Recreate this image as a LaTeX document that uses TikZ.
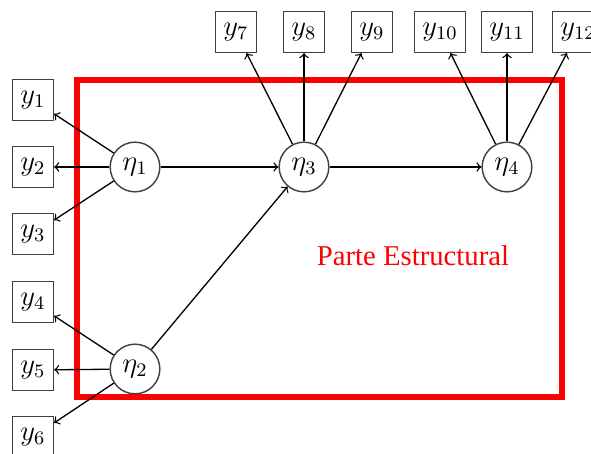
\documentclass[tikz,border=0pt]{standalone}
\usepackage{fontspec}
\newfontfamily\timesfont{Liberation Serif}
\tikzset{
	indbox/.style={draw=black!75, line width=0.6pt, rectangle, minimum size=0.6cm, inner xsep=3.3pt, inner ysep=2.6pt, font=\fontsize{11.5}{13}\selectfont},
	latvar/.style={draw=black!75, line width=0.6pt, circle, minimum size=0.73cm, inner sep=0pt, font=\fontsize{11.5}{13}\selectfont},
	arr/.style={->, line width=0.55pt},
}
\begin{document}
\begin{tikzpicture}[x=0.0147cm, y=-0.0147cm]
		\def\xleft{33}  % Column of the left indicators
		\def\ytop{32}   % Row of the top indicators
		\useasboundingbox (0,0) rectangle (591,454);
		
		% Structural part
		\draw[red, line width=2.1pt] (77,80) rectangle (562,397);
		\node[red, font=\timesfont\fontsize{12}{14}\selectfont] (est) at (413,256) {Parte Estructural};
		
		% Latent variables
		\node[latvar] (eta1) at (135,167) {$\eta_1$};
		\node[latvar] (eta2) at (135,369) {$\eta_2$};
		\node[latvar] (eta3) at (304,167) {$\eta_3$};
		\node[latvar] (eta4) at (507,167) {$\eta_4$};
		
		% Indicators on the left
		\foreach \i/\y in {1/100, 2/167, 3/234, 4/302, 5/370, 6/437} {
			\node[indbox] (y\i) at (\xleft,\y) {$y_{\i}$};
		}
		% Indicators on top
		\foreach \i/\x in {7/236, 8/304, 9/372, 10/440, 11/507, 12/578} {
			\node[indbox] (y\i) at (\x,\ytop) {$y_{\i}$};
		}
		
		% Measurement arrows
		\foreach \i in {1,2,3} \draw[arr] (eta1) -- (y\i);
		\foreach \i in {4,5,6} \draw[arr] (eta2) -- (y\i);
		\foreach \i in {7,8,9} \draw[arr] (eta3) -- (y\i);
		\foreach \i in {10,11,12} \draw[arr] (eta4) -- (y\i);
		
		% Structural arrows
		\draw[arr] (eta1) -- (eta3);
		\draw[arr] (eta2) -- (eta3);
		\draw[arr] (eta3) -- (eta4);
	\end{tikzpicture}
\end{document}
